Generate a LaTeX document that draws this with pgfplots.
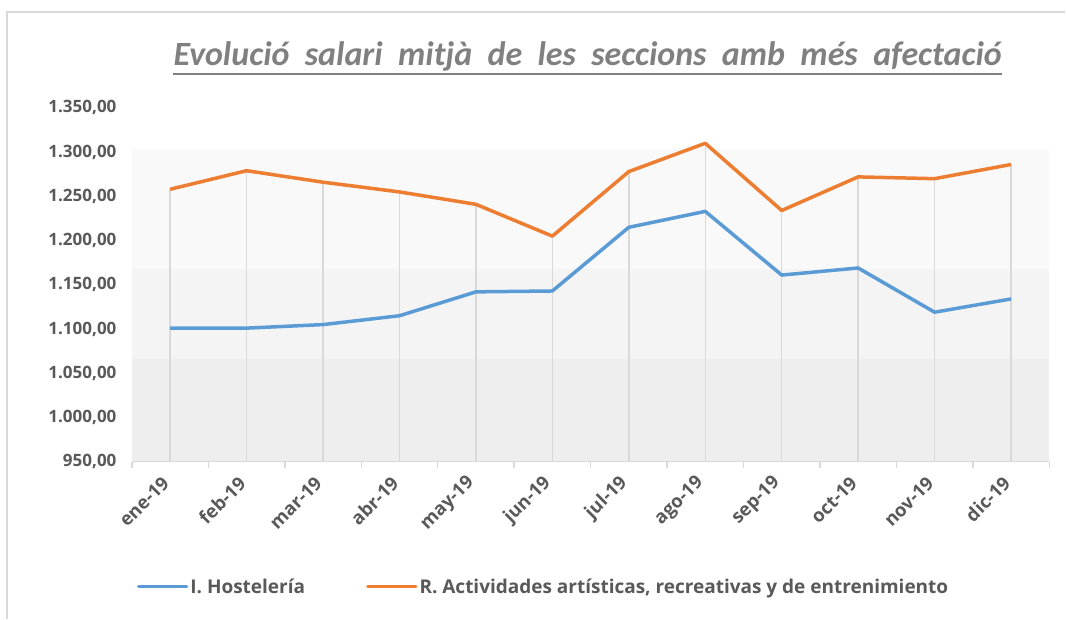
\documentclass[border=0pt]{standalone}
\usepackage{fontspec}
\setmainfont{Open Sans}
\newfontfamily\titlefont{Carlito}
\usepackage{pgfplots}
\pgfplotsset{compat=1.18}
\usepackage{pgfplotstable}

\definecolor{txt}{HTML}{595959}
\definecolor{gridc}{HTML}{D9D9D9}
\definecolor{hostel}{HTML}{5B9BD5}
\definecolor{activ}{HTML}{ED7D31}

% salari mitja mensual 2019
\pgfplotstableread{
x hostel activ
0  1101 1258
1  1101 1279
2  1105 1266
3  1115 1255
4  1142 1241
5  1143 1205
6  1215 1278
7  1233 1310
8  1161 1234
9  1169 1272
10 1119 1270
11 1134 1286
}\salaris

\begin{document}
\begin{tikzpicture}
  % marc i mida de la imatge
  \path (0pt,0pt) rectangle (1066pt,619pt);
  \draw[gridc, line width=1.5pt] (7pt,0pt) -- (7pt,607pt) -- (1066pt,607pt);

  % titol
  \node[inner sep=0pt, anchor=base, text=black!50] (t) at (588pt,553pt)
    {\titlefont\bfseries\itshape\fontsize{34}{40}\selectfont Evolució\ \ salari\ \ mitjà\ \ de\ \ les\ \ seccions\ \ amb\ \ més\ \ afectació};
  \draw[black!50, line width=1.8pt] ([yshift=-8pt]t.base west) -- ([yshift=-8pt]t.base east);

  \begin{axis}[
      set layers,
      at={(132pt,157pt)}, anchor=south west,
      scale only axis, width=918pt, height=354pt,
      xmin=-0.5, xmax=11.5, ymin=950, ymax=1350,
      ytick distance=50,
      xtick={0,...,11},
      xticklabels={ene-19,feb-19,mar-19,abr-19,may-19,jun-19,jul-19,ago-19,sep-19,oct-19,nov-19,dic-19},
      minor xtick={-0.5,0.5,...,11.5},
      major tick length=0pt, minor tick length=6pt,
      tick align=outside,
      every minor tick/.style={gridc, line width=1.5pt},
      axis x line*=bottom, axis y line*=left,
      x axis line style={gridc, line width=1.5pt, -},
      y axis line style={draw=none},
      ytick style={draw=none},
      tick label style={text=txt},
      /pgf/number format/assume math mode=true,
      yticklabel style={/pgf/number format/fixed, /pgf/number format/fixed zerofill,
        /pgf/number format/precision=2, /pgf/number format/1000 sep={.},
        /pgf/number format/use comma, anchor=east, xshift=-12pt,
        font=\bfseries\fontsize{17}{20}\selectfont},
      xticklabel style={xshift=-2pt, yshift=-16pt, rotate=45, anchor=east,
        font=\bfseries\fontsize{18.5}{22}\selectfont},
      legend style={at={(0.002,-0.353)}, anchor=west, draw=none, fill=none,
        legend columns=2, text=txt, font=\bfseries\fontsize{19}{22}\selectfont,
        /tikz/every even column/.append style={column sep=59pt}},
      legend cell align=left,
      legend image code/.code={\draw[#1, line cap=round] (0pt,0pt) -- (48pt,0pt);},
    ]
    \begin{pgfonlayer}{axis background}
      \fill[black!6.5] (axis cs:-0.5,950) rectangle (axis cs:11.5,1066);
      \fill[black!4.5] (axis cs:-0.5,1066) rectangle (axis cs:11.5,1168);
      \fill[black!2.5] (axis cs:-0.5,1168) rectangle (axis cs:11.5,1303.7);
    \end{pgfonlayer}
    % linies de caiguda
    \addplot[ycomb, gridc, line width=1.5pt, forget plot] table[x=x, y=activ] {\salaris};
    \addplot[hostel, line width=3.5pt, line join=round] table[x=x, y=hostel] {\salaris};
    \addlegendentry{I. Hostelería}
    \addplot[activ, line width=3.5pt, line join=round] table[x=x, y=activ] {\salaris};
    \addlegendentry{R. Actividades artísticas, recreativas y de entrenimiento}
  \end{axis}
\end{tikzpicture}
\end{document}
